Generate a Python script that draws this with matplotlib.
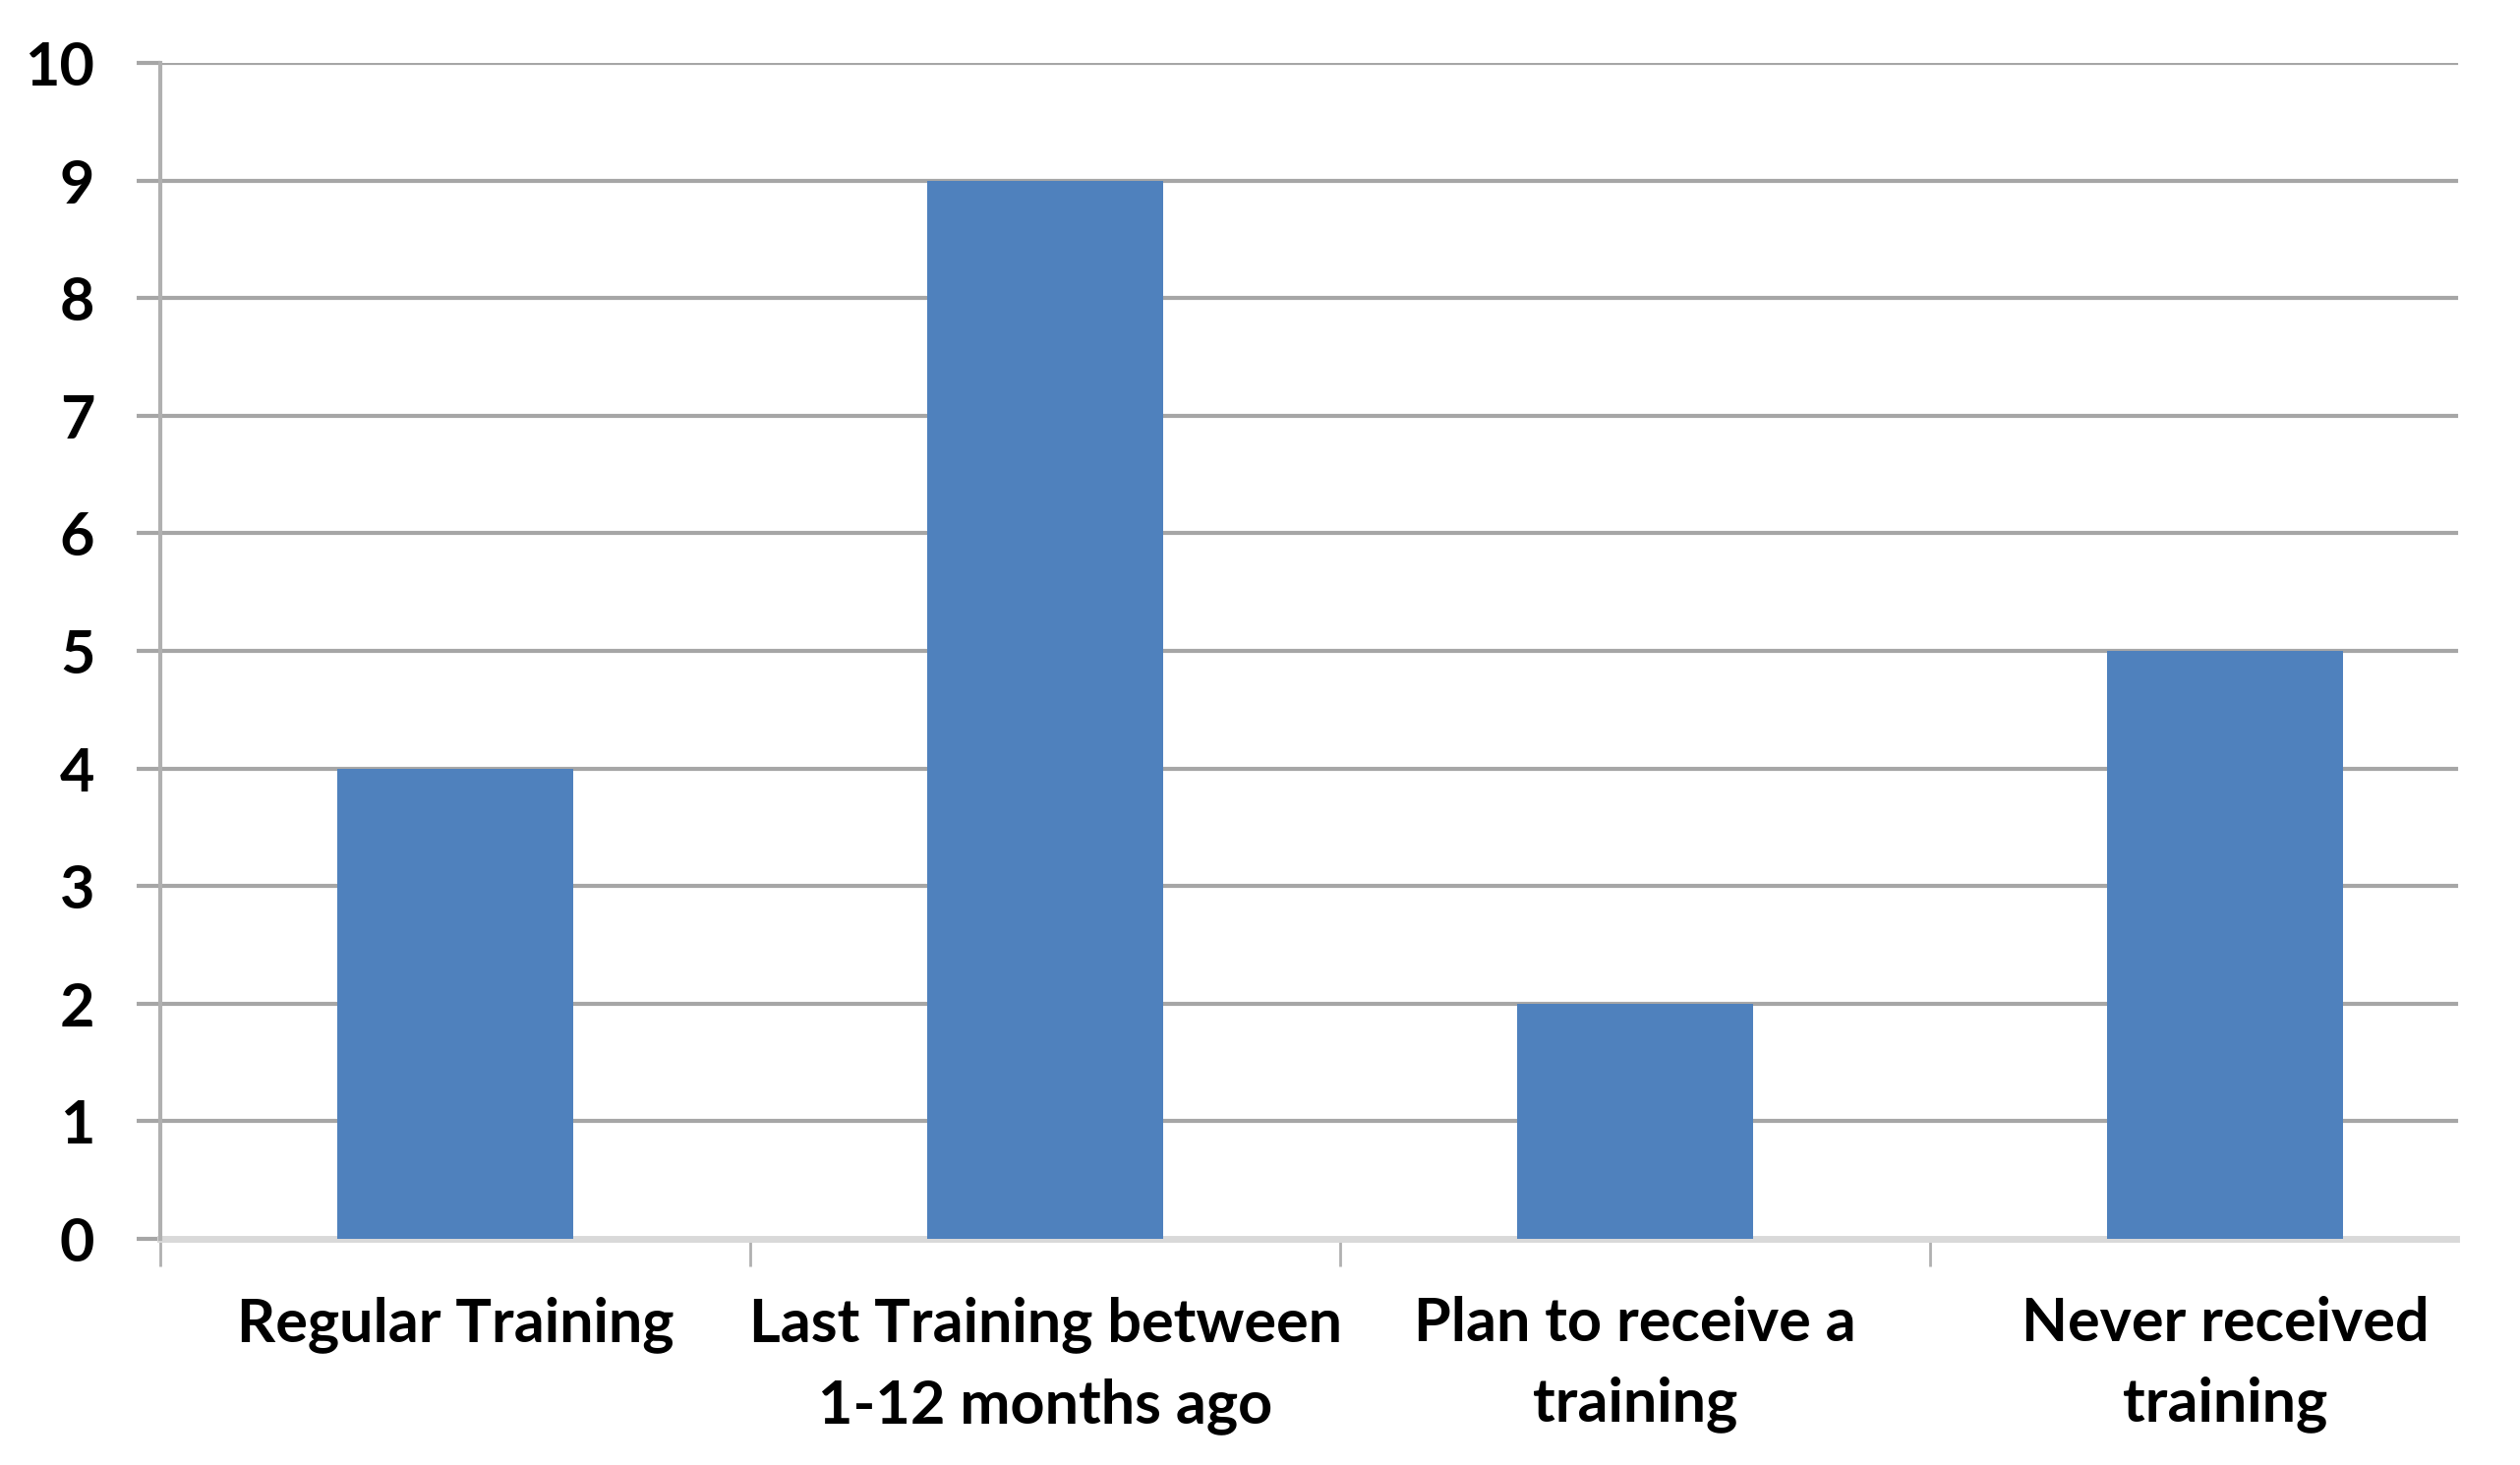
import matplotlib.pyplot as plt
import numpy as np

categories = ["Regular Training", "Last Training between\n1-12 months ago",
              "Plan to receive a\ntraining", "Never received\ntraining"]
counts = [4, 9, 2, 5]
y_ticks = list(range(0, 11))

plt.rcParams['font.family'] = ['Lato', 'DejaVu Sans']

fig = plt.figure(figsize=(25.63, 14.90), dpi=100)
# the last category runs off the right edge of the picture
ax = fig.add_axes([0.0636, 0.1544, 0.9364, 0.8026])

x = np.arange(len(categories))
ax.bar(x, counts, width=0.40, color="#4f81bd", zorder=3)

ax.set_xlim(-0.5, len(categories) - 0.5)
ax.set_ylim(0, 10)
grid_end = 0.973
for v in y_ticks[1:]:
    ax.axhline(v, xmax=grid_end, color="#a6a6a6", linewidth=3, zorder=0)
ax.axhline(0, xmax=grid_end, color="#d9d9d9", linewidth=5, zorder=2, clip_on=False)

ax.set_yticks(y_ticks)
ax.set_yticklabels([str(v) for v in y_ticks], fontsize=44, fontweight="bold")
ax.tick_params(axis="y", length=17, width=3, color="#a6a6a6", pad=31)

ax.set_xticks(x)
ax.set_xticklabels(categories, fontsize=44, fontweight="bold", linespacing=1.55)
ax.set_xticks(np.arange(-0.5, len(categories) - 1, 1), minor=True)
ax.tick_params(axis="x", which="major", length=0, pad=42)
ax.tick_params(axis="x", which="minor", length=20, width=2, color="#b0b0b0")

for side in ("top", "right", "bottom"):
    ax.spines[side].set_visible(False)
ax.spines["left"].set_color("#b0b0b0")
ax.spines["left"].set_linewidth(3)

fig.savefig("out.png", dpi=100)
